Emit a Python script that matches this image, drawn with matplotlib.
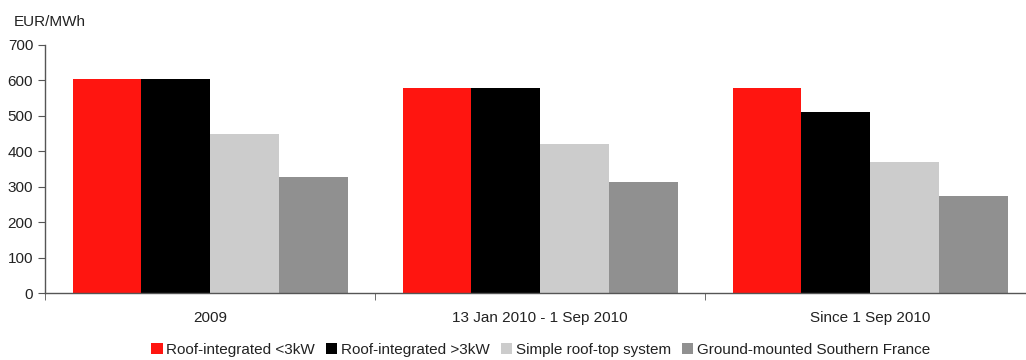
import matplotlib.pyplot as plt
import numpy as np

plt.rcParams["font.family"] = ["Liberation Sans", "DejaVu Sans"]

periods = ["2009", "13 Jan 2010 - 1 Sep 2010", "Since 1 Sep 2010"]
series_names = [
    "Roof-integrated <3kW",
    "Roof-integrated >3kW",
    "Simple roof-top system",
    "Ground-mounted Southern France",
]
roof_small = [603, 580, 580]
roof_large = [603, 580, 510]
simple_roof = [450, 421, 370]
ground = [328, 313, 275]
colors = ["#ff1510", "#000000", "#cccccc", "#909090"]

fig = plt.figure(figsize=(10.26, 3.6), dpi=100)
ax = fig.add_axes([0.0439, 0.186, 0.965, 0.689])

x = np.arange(len(periods))
width = 0.2083
for i, (vals, name, color) in enumerate(
    zip((roof_small, roof_large, simple_roof, ground), series_names, colors)
):
    ax.bar(x + (i - 1.5) * width, vals, width, color=color, label=name)

ax.set_xlim(-0.5, 2.5)
ax.set_ylim(0, 700)
ax.set_yticks(range(0, 701, 100))
ax.set_xticks(x)
ax.set_xticklabels(periods)
ax.set_xticks([-0.5, 0.5, 1.5, 2.5], minor=True)
ax.tick_params(axis="x", which="major", length=0, pad=13, labelsize=11, labelcolor="#222222")
ax.tick_params(axis="x", which="minor", length=5, color="#555555", direction="out")
ax.tick_params(axis="y", length=5, color="#555555", direction="out", labelsize=11,
               labelcolor="#222222")

for side in ("top", "right"):
    ax.spines[side].set_visible(False)
for side in ("left", "bottom"):
    ax.spines[side].set_color("#555555")
    ax.spines[side].set_linewidth(1.0)

fig.text(0.013, 0.94, "EUR/MWh", fontsize=11, color="#222222", va="center")

fig.legend(
    loc="center",
    bbox_to_anchor=(0.527, 0.028),
    ncol=4,
    frameon=False,
    fontsize=11,
    handlelength=0.75,
    handleheight=0.75,
    handletextpad=0.25,
    columnspacing=0.7,
    labelcolor="#222222",
)

fig.savefig("out.png", dpi=100)
